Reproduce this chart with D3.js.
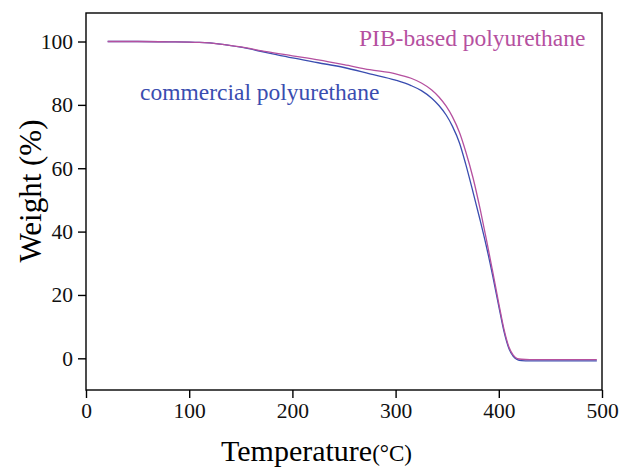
<!DOCTYPE html>
<html>
<head>
<meta charset="utf-8">
<script src="https://cdn.jsdelivr.net/npm/d3@7"></script>
<style>
  body { margin: 0; background: #fff; }
  svg text { font-family: "Liberation Serif", "Times New Roman", serif; }
</style>
</head>
<body>
<div id="js_chart"></div>
<script>
// TGA curves
const temps = [21, 50, 80, 110, 130, 150, 175, 200, 225, 250, 275, 300, 315, 325, 335,
  342, 349, 355, 362, 368, 375, 382, 388, 394, 400, 405, 410, 414, 418, 422, 430, 460, 495];
const pibWeight = [100, 100, 99.9, 99.7, 99.2, 98.3, 96.8, 95.5, 94.2, 92.7, 91.1, 89.8, 88.4, 86.9, 84.7,
  82.5, 79.6, 76.3, 71.2, 65.2, 57.0, 47.0, 37.5, 27.5, 17.3, 9.2, 3.4, 1.0, -0.1, -0.3, -0.4, -0.4, -0.4];
const commercialWeight = [100, 100, 99.9, 99.7, 99.2, 98.2, 96.5, 94.8, 93.3, 91.8, 89.8, 87.8, 86.1, 84.5, 82.1,
  79.8, 76.8, 73.3, 67.9, 61.2, 52.5, 43.5, 35.3, 26.2, 16.4, 8.5, 2.9, 0.6, -0.4, -0.7, -0.8, -0.8, -0.8];
const xTicks = [0, 100, 200, 300, 400, 500];
const yTicks = [0, 20, 40, 60, 80, 100];

const width = 620;
const height = 467;
const margin = { top: 13, right: 18, bottom: 77, left: 86 };
const serif = "'Liberation Serif', 'Times New Roman', serif";

const svg = d3.select("#js_chart")
  .append("svg")
  .attr("width", width)
  .attr("height", height);

const x = d3.scaleLinear().domain([0, 500]).range([margin.left, width - margin.right]);
const y = d3.scaleLinear().domain([-10, 109]).range([height - margin.bottom, margin.top]);

const pink = "#b5509f";
const blue = "#3a4db0";

// frame
svg.append("rect")
  .attr("x", x(0))
  .attr("y", y(109))
  .attr("width", x(500) - x(0))
  .attr("height", y(-10) - y(109))
  .attr("fill", "none")
  .attr("stroke", "#000")
  .attr("stroke-width", 1.4);

// x axis: minor + major ticks
const xAxis = svg.append("g").attr("transform", `translate(0,${y(-10)})`);
xAxis.call(d3.axisBottom(x).tickValues(d3.range(50, 500, 100)).tickSize(4).tickFormat(""));
xAxis.call(d3.axisBottom(x).tickValues(xTicks).tickSize(8).tickPadding(5));

const yAxis = svg.append("g").attr("transform", `translate(${x(0)},0)`);
yAxis.call(d3.axisLeft(y).tickValues(d3.range(10, 100, 20)).tickSize(5).tickFormat(""));
yAxis.call(d3.axisLeft(y).tickValues(yTicks).tickSize(8).tickPadding(5));

svg.selectAll(".domain").remove();
[xAxis, yAxis].forEach(a => a.attr("font-family", serif).attr("font-size", 21.5));
svg.selectAll(".tick line").attr("stroke", "#000").attr("stroke-width", 1.4);
svg.selectAll(".tick text")
  .attr("fill", "#111")
  .attr("font-family", serif)
  .style("font-family", serif)
  .style("font-size", "21.5px");

// curves
const series = [
  { values: commercialWeight, color: blue },
  { values: pibWeight, color: pink }
];
const line = d3.line()
  .x(d => x(d[0]))
  .y(d => y(d[1]))
  .curve(d3.curveMonotoneX);

svg.append("g")
  .selectAll("path")
  .data(series)
  .join("path")
    .attr("d", s => line(temps.map((t, i) => [t, s.values[i]])))
    .attr("fill", "none")
    .attr("stroke", s => s.color)
    .attr("stroke-width", 1.3);

// labels
svg.append("text")
  .attr("x", 359)
  .attr("y", 46)
  .attr("fill", pink)
  .style("font-family", serif)
  .style("font-size", "23.5px")
  .text("PIB-based polyurethane");

svg.append("text")
  .attr("x", 140)
  .attr("y", 100)
  .attr("fill", blue)
  .style("font-family", serif)
  .style("font-size", "23.5px")
  .text("commercial polyurethane");

// axis titles
svg.append("text")
  .attr("transform", `translate(41,191) rotate(-90)`)
  .attr("text-anchor", "middle")
  .attr("fill", "#000")
  .style("font-family", serif)
  .style("font-size", "31px")
  .text("Weight (%)");

const xt = svg.append("text")
  .attr("x", 221)
  .attr("y", 461)
  .attr("fill", "#000")
  .style("font-family", serif)
  .style("font-size", "30px");
xt.append("tspan").text("Temperature");
xt.append("tspan").style("font-size", "23px").text("(°C)");
</script>
</body>
</html>
